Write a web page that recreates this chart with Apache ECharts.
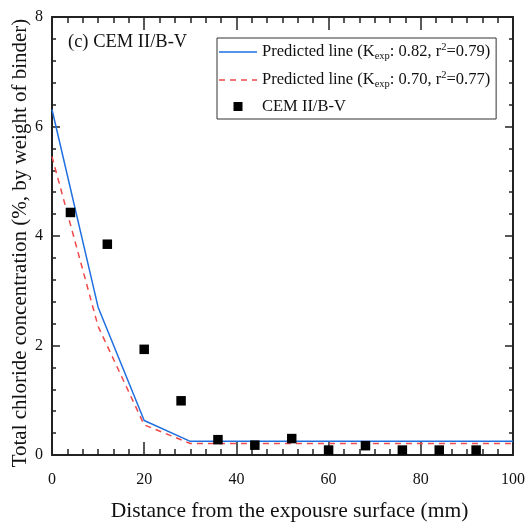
<!DOCTYPE html>
<html><head><meta charset="utf-8">
<script src="https://cdn.jsdelivr.net/npm/echarts@6/dist/echarts.min.js"></script>
<style>html,body{margin:0;padding:0;background:#fff}#c{width:528px;height:529px}</style>
</head><body><div id="c"></div>
<script>
// Data
const lineX = [0, 10, 20, 30, 40, 50, 60, 70, 80, 90, 100];
const predBlue = [6.31, 2.70, 0.63, 0.25, 0.25, 0.25, 0.25, 0.25, 0.25, 0.25, 0.25];
const predRed = [5.45, 2.35, 0.55, 0.21, 0.21, 0.21, 0.21, 0.21, 0.21, 0.21, 0.21];
const measX = [4, 12, 20, 28, 36, 44, 52, 60, 68, 76, 84, 92];
const measY = [4.43, 3.85, 1.93, 0.99, 0.28, 0.18, 0.30, 0.09, 0.17, 0.09, 0.09, 0.09];
const xTicks = [0, 20, 40, 60, 80, 100];
const yTicks = [0, 2, 4, 6, 8];
const seriesNames = ['Predicted line (Kexp: 0.82, r2=0.79)', 'Predicted line (Kexp: 0.70, r2=0.77)', 'CEM II/B-V'];

const FONT = '"Liberation Serif", "Times New Roman", serif';
const chart = echarts.init(document.getElementById('c'), null, {renderer: 'canvas'});
const axisCommon = {
  axisLine: {show: true, onZero: false, lineStyle: {color: '#222', width: 2}},
  splitLine: {show: false},
  nameMoveOverlap: false
};
function xAxis(pos, labels) {
  return Object.assign({}, axisCommon, {
    type: 'value', position: pos, min: xTicks[0], max: xTicks[xTicks.length - 1], interval: 20,
    axisTick: {show: true, inside: true, length: 13, lineStyle: {color: '#222', width: 1.5}},
    minorTick: {show: true, splitNumber: 6, length: 6, lineStyle: {color: '#222', width: 1.5}},
    axisLabel: {show: labels, color: '#111', fontFamily: FONT, fontSize: 16, margin: 17},
    name: labels ? 'Distance from the expousre surface (mm)' : '',
    nameLocation: 'middle', nameGap: 45,
    nameTextStyle: {fontFamily: FONT, fontSize: 21.5, color: '#111', padding: [0, 0, 0, 14]}
  });
}
function yAxis(pos, labels) {
  return Object.assign({}, axisCommon, {
    type: 'value', position: pos, min: yTicks[0], max: yTicks[yTicks.length - 1], interval: 2,
    axisTick: {show: true, inside: true, length: 8, lineStyle: {color: '#222', width: 1.5}},
    minorTick: {show: true, splitNumber: 5, length: 4, lineStyle: {color: '#222', width: 1.5}},
    axisLabel: {show: labels, color: '#111', fontFamily: FONT, fontSize: 16, margin: 9},
    name: labels ? 'Total chloride concentration (%, by weight of binder)' : '',
    nameLocation: 'middle', nameGap: 21,
    nameTextStyle: {fontFamily: FONT, fontSize: 21, color: '#111', padding: [0, 14, 0, 0]}
  });
}
const rich = {
  a: {fontFamily: FONT, fontSize: 16.5, color: '#111'},
  sub: {fontFamily: FONT, fontSize: 10.5, color: '#111', verticalAlign: 'bottom', padding: [9, 0, 0, 0]},
  sup: {fontFamily: FONT, fontSize: 10.5, color: '#111', verticalAlign: 'top', padding: [0, 0, 8, 0]}
};
function fmt(name) {
  const m = name.match(/^(.*\(K)exp(: [0-9.]+, r)2(=.*)$/);
  if (m) return '{a|' + m[1] + '}{sub|exp}{a|' + m[2] + '}{sup|2}{a|' + m[3] + '}';
  return '{a|' + name + '}';
}
const solidIcon = 'path://M0,0L38,0L38,1.5L0,1.5Z';
const dashIcon = 'path://M0,0h6v1.5h-6z M11,0h6v1.5h-6z M22,0h6v1.5h-6z M33,0h5v1.5h-5z';
chart.setOption({
  animation: false,
  grid: {left: 52, right: 15, top: 17, bottom: 74, outerBoundsMode: 'none', containLabel: false},
  xAxis: [xAxis('bottom', true), xAxis('top', false)],
  yAxis: [yAxis('left', true), yAxis('right', false)],
  legend: {
    orient: 'vertical', left: 217, top: 38,
    data: [
      {name: seriesNames[0], icon: solidIcon},
      {name: seriesNames[1], icon: dashIcon},
      {name: seriesNames[2], icon: 'path://M0,0L10,0L10,10L0,10Z'}
    ],
    symbolKeepAspect: true,
    backgroundColor: '#fff', borderColor: '#333', borderWidth: 1,
    padding: [4, 6, 4, 2], itemGap: 8, itemWidth: 38, itemHeight: 9,
    textStyle: {rich: rich}, formatter: fmt
  },
  graphic: [{
    type: 'text', left: 68, top: 33,
    style: {text: '(c) CEM II/B-V', font: '18.5px ' + FONT, fill: '#111'}
  }],
  series: [
    {name: seriesNames[0], type: 'line', data: lineX.map((x, i) => [x, predBlue[i]]),
     symbol: 'none', lineStyle: {color: '#1f6fe0', width: 1.5}, itemStyle: {color: '#1f6fe0'}, z: 3},
    {name: seriesNames[1], type: 'line', data: lineX.map((x, i) => [x, predRed[i]]),
     symbol: 'none', lineStyle: {color: '#f04848', width: 1.5, type: [6, 5]}, itemStyle: {color: '#f04848'}, z: 3},
    {name: seriesNames[2], type: 'scatter', data: measX.map((x, i) => [x, measY[i]]),
     symbol: 'rect', symbolSize: 9.5, itemStyle: {color: '#000', opacity: 1}, z: 4}
  ]
});
</script></body></html>
